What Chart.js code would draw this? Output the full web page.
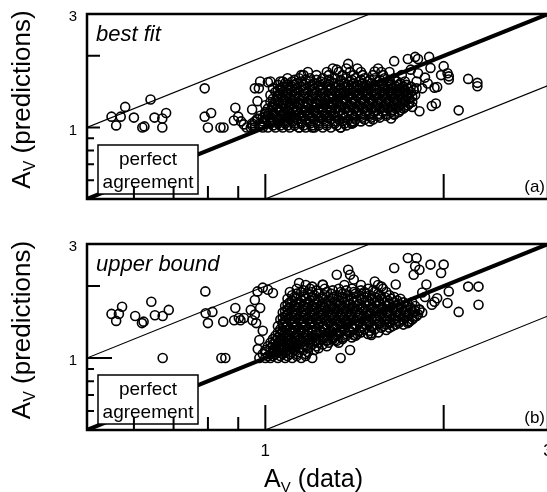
<!DOCTYPE html>
<html>
<head>
<meta charset="utf-8">
<script src="https://cdn.jsdelivr.net/npm/chart.js@4.4.1/dist/chart.umd.min.js"></script>
<style>
  html, body { margin: 0; padding: 0; background: #fff; width: 547px; height: 492px; overflow: hidden; }
  canvas { position: absolute; left: 0; }
  #c1 { top: 0; }
  #c2 { top: 230px; }
</style>
</head>
<body>
<canvas id="c1" width="560" height="230"></canvas>
<canvas id="c2" width="560" height="262"></canvas>
<script>
// axis range (both axes are logarithmic)
const axisMin = 0.5;
const axisMax = 3;

// tick marks and labels
const xMajorTicks = [1, 2];
const xMinorTicks = [0.6, 0.7, 0.8, 0.9];
const yMajorTicks = [1, 2];
const yMinorTicks = [0.6, 0.7, 0.8, 0.9];
const xLabelValues = [1, 3];
const yLabelValues = [1, 3];

// prediction / data ratios for the reference lines (perfect agreement, factor 2)
const refRatios = [1, 2, 0.5];

// (a) best fit: isolated points [data, prediction]
const bestFitSparse = [
  [0.55,1.11],[0.56,1.02],[0.57,1.11],[0.58,1.22],[0.60,1.10],[0.62,1.00],[0.625,1.01],[0.64,1.31],
  [0.65,1.10],[0.67,1.00],[0.67,1.09],[0.68,1.15],[0.79,1.46],[0.79,1.11],[0.80,1.00],[0.81,1.15],
  [0.84,1.00],[0.85,1.00],[0.89,1.21],[0.885,1.07],[0.90,1.11],[0.91,1.06],[0.92,1.03],[0.945,1.00],
  [0.95,1.19],[0.96,1.46],[0.975,1.46],[0.97,1.29],[0.98,1.56],[0.97,1.09],[1.01,1.55],
  [1.65,1.90],[1.74,1.94],[1.79,1.98],[1.81,1.94],[1.89,1.98],[1.90,1.78],[2.00,1.81],[2.04,1.64],
  [2.04,1.59],[1.98,1.66],[2.03,1.69],[2.20,1.60],[2.28,1.54],[2.28,1.49],[2.12,1.18],[1.91,1.23],
  [1.94,1.26],[1.82,1.17],[1.77,1.22],[1.65,1.13],[1.63,1.09],[1.80,1.56],[1.84,1.46],[1.88,1.53],
  [1.93,1.47],[1.95,1.48],[1.76,1.75],[1.81,1.69],[1.86,1.62],[1.32,1.75],[1.38,1.85],[1.53,1.72],
  [1.16,1.66],[1.06,1.56],[1.41,1.05],[1.40,1.04],[1.34,1.00],[1.20,1.00],[1.14,1.00]
];

// (a) best fit: dense cloud, rows of [prediction, [data values]]
const bestFitRows = [
  [1.00, [0.93,0.96,0.99,1.01,1.04,1.07,1.10,1.14,1.17,1.21,1.25,1.29,1.34]],
  [1.02, [0.95,0.98,1.03,1.06,1.09,1.12,1.16,1.20,1.23,1.27,1.32,1.37]],
  [1.04, [0.95,0.98,1.02,1.05,1.08,1.12,1.15,1.19,1.23,1.27,1.31,1.36,1.40]],
  [1.06, [0.96,0.99,1.02,1.05,1.08,1.11,1.15,1.19,1.23,1.27,1.31,1.35,1.40,1.45,1.50]],
  [1.08, [0.97,1.00,1.03,1.06,1.10,1.13,1.17,1.21,1.25,1.29,1.33,1.38,1.42,1.47,1.52]],
  [1.10, [0.99,1.02,1.05,1.09,1.12,1.16,1.20,1.24,1.28,1.32,1.36,1.41,1.46,1.51,1.56]],
  [1.12, [0.98,1.01,1.04,1.08,1.11,1.15,1.19,1.23,1.27,1.31,1.35,1.40,1.45,1.50,1.55,1.60]],
  [1.14, [1.00,1.03,1.07,1.10,1.14,1.18,1.22,1.26,1.30,1.35,1.40,1.45,1.50,1.55,1.60,1.65]],
  [1.16, [1.00,1.03,1.06,1.09,1.13,1.17,1.21,1.25,1.29,1.33,1.38,1.43,1.48,1.53,1.58,1.63,1.68]],
  [1.18, [1.02,1.06,1.09,1.13,1.17,1.21,1.25,1.29,1.34,1.39,1.44,1.49,1.54,1.59,1.64,1.69]],
  [1.20, [1.01,1.05,1.08,1.11,1.15,1.19,1.23,1.27,1.31,1.36,1.41,1.46,1.51,1.56,1.61,1.66,1.71]],
  [1.22, [1.03,1.06,1.10,1.13,1.17,1.21,1.25,1.29,1.33,1.38,1.43,1.48,1.53,1.58,1.63,1.68,1.72]],
  [1.24, [1.00,1.03,1.07,1.10,1.14,1.18,1.22,1.26,1.30,1.34,1.39,1.44,1.49,1.54,1.59,1.64,1.69,1.74]],
  [1.26, [1.04,1.07,1.11,1.14,1.18,1.22,1.26,1.30,1.35,1.40,1.45,1.50,1.55,1.60,1.65,1.70,1.75]],
  [1.28, [1.02,1.05,1.09,1.12,1.16,1.20,1.24,1.28,1.32,1.37,1.42,1.47,1.52,1.57,1.62,1.67,1.72,1.77]],
  [1.30, [1.04,1.08,1.11,1.15,1.19,1.23,1.27,1.32,1.37,1.42,1.47,1.52,1.57,1.62,1.67,1.72]],
  [1.32, [1.03,1.07,1.10,1.14,1.18,1.22,1.26,1.30,1.35,1.40,1.45,1.50,1.55,1.60,1.65,1.70,1.75]],
  [1.345, [1.05,1.08,1.12,1.16,1.20,1.24,1.28,1.33,1.38,1.43,1.48,1.53,1.58,1.63,1.68,1.73,1.77]],
  [1.37, [1.02,1.05,1.09,1.12,1.16,1.20,1.24,1.28,1.33,1.38,1.43,1.48,1.53,1.58,1.63,1.68,1.73,1.79]],
  [1.39, [1.06,1.09,1.13,1.17,1.21,1.25,1.29,1.34,1.39,1.44,1.49,1.54,1.59,1.64,1.69,1.74]],
  [1.41, [1.04,1.07,1.11,1.14,1.18,1.22,1.26,1.31,1.36,1.41,1.46,1.51,1.56,1.61,1.66,1.71,1.76]],
  [1.435, [1.05,1.09,1.12,1.16,1.20,1.24,1.28,1.33,1.38,1.43,1.48,1.53,1.58,1.63,1.68,1.72,1.78]],
  [1.46, [1.03,1.06,1.10,1.13,1.17,1.21,1.25,1.29,1.34,1.39,1.44,1.49,1.54,1.59,1.64,1.69,1.74,1.80]],
  [1.485, [1.07,1.11,1.15,1.19,1.23,1.27,1.31,1.36,1.41,1.46,1.51,1.56,1.61,1.66,1.71,1.76]],
  [1.51, [1.05,1.09,1.12,1.16,1.20,1.24,1.28,1.33,1.38,1.43,1.48,1.53,1.58,1.63,1.68,1.73]],
  [1.535, [1.08,1.13,1.17,1.21,1.26,1.31,1.36,1.41,1.46,1.51,1.57,1.63,1.69]],
  [1.56, [1.02,1.07,1.11,1.15,1.19,1.24,1.29,1.34,1.39,1.44,1.49,1.55,1.61,1.67,1.72]],
  [1.585, [1.12,1.17,1.22,1.28,1.34,1.40,1.45,1.50,1.56,1.62]],
  [1.61, [1.09,1.14,1.19,1.25,1.31,1.37,1.42,1.47,1.53,1.59,1.65]],
  [1.66, [1.15,1.22,1.28,1.35,1.41,1.46,1.52,1.58,1.70]],
  [1.71, [1.18,1.27,1.33,1.39,1.45,1.57,1.62]],
  [1.77, [1.30,1.37,1.43,1.55]]
];

// (b) upper bound: isolated points [data, prediction]
const upperBoundSparse = [
  [0.55,1.53],[0.56,1.43],[0.566,1.53],[0.573,1.64],[0.603,1.50],[0.619,1.40],[0.623,1.42],[0.642,1.72],
  [0.651,1.51],[0.671,1.50],[0.671,1.00],[0.687,1.59],[0.792,1.90],[0.793,1.54],[0.80,1.40],[0.814,1.56],
  [0.849,1.42],[0.843,1.00],[0.856,1.00],[0.89,1.62],[0.886,1.44],[0.902,1.47],[0.908,1.44],[0.92,1.47],
  [0.945,1.59],[0.951,1.44],[0.96,1.75],[0.97,1.90],[0.99,1.97],[1.01,1.93],[1.03,1.87],[0.977,1.19],
  [0.971,1.09],[0.977,1.00],[0.96,1.52],[0.965,1.40],[0.98,1.62],[0.99,1.30],
  [1.32,2.23],[1.38,2.34],[1.39,2.23],[1.41,2.13],[1.14,2.06],[1.20,1.99],[1.25,2.03],[1.53,2.09],
  [1.57,1.99],[1.66,2.03],[1.34,1.00],[1.39,1.08],[1.51,1.25],[1.51,1.27],[1.60,1.31],[1.41,1.25],
  [1.31,1.19],[1.27,1.19],[1.75,1.42],[1.82,1.59],[1.91,1.67],[1.93,1.72],[2.03,1.70],[2.12,1.56],
  [2.29,1.67],[2.29,1.99],[2.20,1.99],[2.04,1.90],[1.98,2.27],[2.00,2.46],[1.90,2.46],[1.82,2.34],
  [1.80,2.62],[1.74,2.62],[1.65,2.38],[1.87,2.03],[1.79,2.42],[1.78,2.23],[1.86,1.80],[1.95,1.78],
  [1.84,1.88]
];

// (b) upper bound: dense cloud, rows of [prediction, [data values]]
const upperBoundRows = [
  [1.00, [1.00,1.02,1.05,1.08,1.11,1.15,1.20]],
  [1.02, [1.01,1.03,1.06,1.09,1.13,1.17]],
  [1.04, [0.99,1.02,1.04,1.07,1.10,1.13,1.17]],
  [1.06, [1.00,1.03,1.05,1.08,1.11,1.14,1.18]],
  [1.08, [1.00,1.03,1.06,1.09,1.12,1.16,1.21]],
  [1.10, [1.02,1.05,1.08,1.11,1.14,1.18,1.23]],
  [1.12, [1.01,1.04,1.07,1.10,1.13,1.17,1.22,1.27]],
  [1.14, [1.03,1.06,1.09,1.12,1.16,1.20,1.25]],
  [1.16, [1.02,1.05,1.08,1.11,1.15,1.19,1.23,1.28,1.33]],
  [1.18, [1.04,1.07,1.10,1.14,1.18,1.22,1.27,1.32]],
  [1.20, [1.03,1.06,1.09,1.12,1.16,1.20,1.25,1.30,1.35]],
  [1.22, [1.05,1.08,1.12,1.16,1.20,1.25,1.30,1.35,1.40]],
  [1.24, [1.04,1.07,1.10,1.14,1.18,1.22,1.27,1.32,1.37,1.42]],
  [1.26, [1.06,1.09,1.13,1.17,1.22,1.27,1.32,1.37,1.43,1.49]],
  [1.28, [1.05,1.08,1.12,1.16,1.20,1.24,1.29,1.34,1.39,1.45,1.55]],
  [1.30, [1.07,1.11,1.15,1.20,1.24,1.29,1.34,1.39,1.44,1.50]],
  [1.32, [1.06,1.10,1.14,1.18,1.22,1.26,1.31,1.36,1.41,1.47,1.53]],
  [1.34, [1.08,1.12,1.16,1.20,1.25,1.30,1.35,1.40,1.45,1.51,1.57,1.62]],
  [1.36, [1.05,1.09,1.13,1.17,1.21,1.25,1.30,1.35,1.40,1.46,1.52,1.58,1.64]],
  [1.38, [1.07,1.11,1.15,1.19,1.23,1.27,1.32,1.37,1.42,1.48,1.54,1.60,1.66,1.71]],
  [1.40, [1.07,1.11,1.15,1.19,1.23,1.28,1.33,1.38,1.44,1.50,1.56,1.62,1.68,1.74]],
  [1.425, [1.08,1.12,1.16,1.20,1.24,1.29,1.34,1.39,1.44,1.50,1.56,1.62,1.68,1.74]],
  [1.45, [1.06,1.10,1.14,1.18,1.22,1.26,1.31,1.36,1.41,1.47,1.53,1.59,1.65,1.71,1.77]],
  [1.475, [1.07,1.11,1.15,1.19,1.23,1.28,1.33,1.38,1.43,1.48,1.54,1.60,1.66,1.72,1.78]],
  [1.50, [1.08,1.12,1.16,1.20,1.24,1.29,1.34,1.39,1.44,1.50,1.56,1.62,1.68,1.74,1.80]],
  [1.525, [1.09,1.13,1.17,1.21,1.25,1.30,1.35,1.40,1.45,1.51,1.57,1.63,1.69,1.75,1.81]],
  [1.55, [1.07,1.11,1.15,1.19,1.23,1.27,1.32,1.37,1.42,1.48,1.54,1.60,1.66,1.72,1.78,1.84]],
  [1.575, [1.08,1.12,1.16,1.20,1.24,1.28,1.33,1.38,1.43,1.49,1.55,1.61,1.67,1.73,1.79]],
  [1.60, [1.09,1.13,1.17,1.21,1.25,1.30,1.35,1.40,1.46,1.52,1.58,1.64,1.70,1.76,1.82]],
  [1.625, [1.10,1.14,1.18,1.22,1.26,1.31,1.36,1.41,1.46,1.52,1.58,1.64,1.70,1.76]],
  [1.65, [1.08,1.12,1.16,1.20,1.24,1.28,1.33,1.38,1.43,1.49,1.55,1.61,1.67,1.73,1.79]],
  [1.68, [1.09,1.13,1.17,1.21,1.25,1.29,1.34,1.39,1.44,1.50,1.56,1.62,1.68,1.74]],
  [1.71, [1.10,1.14,1.18,1.22,1.26,1.31,1.36,1.41,1.47,1.53,1.59,1.65,1.71,1.77]],
  [1.74, [1.11,1.15,1.19,1.23,1.28,1.33,1.38,1.43,1.49,1.55,1.61,1.67]],
  [1.77, [1.09,1.13,1.17,1.21,1.25,1.30,1.35,1.40,1.45,1.51,1.57,1.63,1.69]],
  [1.80, [1.12,1.16,1.20,1.25,1.30,1.35,1.41,1.47,1.53,1.59,1.65]],
  [1.83, [1.11,1.16,1.21,1.26,1.32,1.38,1.44,1.50,1.56,1.62]],
  [1.86, [1.13,1.18,1.23,1.29,1.35,1.42,1.48,1.55]],
  [1.89, [1.10,1.15,1.20,1.27,1.34,1.41,1.47,1.53,1.60]],
  [1.92, [1.16,1.22,1.30,1.37,1.45,1.52]],
  [1.95, [1.13,1.19,1.26,1.33,1.40,1.49,1.58]],
  [2.02, [1.17,1.25,1.36,1.45,1.55]]
];

const FONT = "'Liberation Sans', Arial, Helvetica, sans-serif";

function toPoints(sparse, rows) {
  const pts = sparse.map(([x, y]) => ({ x, y }));
  rows.forEach(([y, xs]) => xs.forEach(x => pts.push({ x, y })));
  return pts;
}

function refLine(ratio, width) {
  return {
    type: 'scatter',
    showLine: true,
    data: [{ x: axisMin, y: axisMin * ratio }, { x: axisMax, y: axisMax * ratio }],
    borderColor: '#000',
    borderWidth: width,
    pointRadius: 0,
    order: 2
  };
}

// text with a subscript, drawn around a centre point
function drawSubText(ctx, parts, cx, baseline) {
  let total = 0;
  parts.forEach(p => { ctx.font = p.font; total += ctx.measureText(p.text).width; });
  let x = cx - total / 2;
  parts.forEach(p => {
    ctx.font = p.font;
    ctx.fillText(p.text, x, baseline + (p.dy || 0));
    x += ctx.measureText(p.text).width;
  });
}

function axisTitle(word, size) {
  return [
    { text: 'A', font: `${size}px ${FONT}` },
    { text: 'V', font: `${Math.round(size * 0.6)}px ${FONT}`, dy: 5 },
    { text: ` (${word})`, font: `${size}px ${FONT}` }
  ];
}

function decorPlugin(panel) {
  return {
    id: 'decor',
    afterDatasetsDraw(chart) {
      const { ctx, chartArea: a, scales: { x, y } } = chart;
      ctx.save();
      ctx.fillStyle = '#000';
      ctx.strokeStyle = '#000';

      // "perfect agreement" box
      const bx = a.left + 11, by = a.top + 131, bw = 100, bh = 49;
      ctx.fillStyle = '#fff';
      ctx.fillRect(bx, by, bw, bh);
      ctx.lineWidth = 1.5;
      ctx.strokeRect(bx, by, bw, bh);
      ctx.fillStyle = '#000';
      ctx.font = `19px ${FONT}`;
      ctx.textAlign = 'center';
      ctx.textBaseline = 'alphabetic';
      ctx.fillText('perfect', bx + bw / 2, by + 20);
      ctx.fillText('agreement', bx + bw / 2, by + 43);

      // frame
      ctx.lineWidth = 2.5;
      ctx.strokeRect(a.left, a.top, a.right - a.left, a.bottom - a.top);

      // inward ticks
      ctx.lineWidth = 2;
      ctx.beginPath();
      xMajorTicks.forEach(v => { const px = x.getPixelForValue(v); ctx.moveTo(px, a.bottom); ctx.lineTo(px, a.bottom - 25); });
      xMinorTicks.forEach(v => { const px = x.getPixelForValue(v); ctx.moveTo(px, a.bottom); ctx.lineTo(px, a.bottom - 13); });
      yMajorTicks.forEach(v => {
        const py = y.getPixelForValue(v);
        ctx.moveTo(a.left, py);
        ctx.lineTo(a.left + (v === 1 ? panel.oneTick : 13), py);
      });
      yMinorTicks.forEach(v => { const py = y.getPixelForValue(v); ctx.moveTo(a.left, py); ctx.lineTo(a.left + 7, py); });
      ctx.stroke();

      // y tick labels
      ctx.font = `15px ${FONT}`;
      ctx.textAlign = 'right';
      ctx.textBaseline = 'middle';
      yLabelValues.forEach(v => ctx.fillText(String(v), 77, y.getPixelForValue(v) + 3));

      // panel name and tag
      ctx.font = `italic 22px ${FONT}`;
      ctx.textAlign = 'left';
      ctx.textBaseline = 'alphabetic';
      ctx.fillText(panel.name, a.left + 9, a.top + 27);
      ctx.font = `17px ${FONT}`;
      ctx.textAlign = 'right';
      ctx.fillText(panel.tag, 545, a.bottom - 7);

      // y axis title
      ctx.save();
      ctx.translate(30, (a.top + a.bottom) / 2 - 7);
      ctx.rotate(-Math.PI / 2);
      ctx.textAlign = 'left';
      drawSubText(ctx, axisTitle('predictions', 26), 0, 0);
      ctx.restore();

      // x tick labels and title on the lower panel only
      if (panel.xAxis) {
        ctx.font = `17px ${FONT}`;
        ctx.textAlign = 'center';
        ctx.textBaseline = 'middle';
        xLabelValues.forEach(v => ctx.fillText(String(v), x.getPixelForValue(v), a.bottom + 21));
        ctx.textAlign = 'left';
        ctx.textBaseline = 'alphabetic';
        drawSubText(ctx, axisTitle('data', 25), (a.left + a.right) / 2 - 4, a.bottom + 57);
      }
      ctx.restore();
    }
  };
}

function makePanel(canvas, points, panel, padBottom) {
  return new Chart(canvas, {
    type: 'scatter',
    data: {
      datasets: [
        {
          data: points,
          pointStyle: 'circle',
          pointRadius: 4.5,
          pointBorderWidth: 1.6,
          pointBorderColor: '#000',
          pointBackgroundColor: 'rgba(0,0,0,0)',
          order: 1
        },
        refLine(refRatios[0], 4),
        refLine(refRatios[1], 1.2),
        refLine(refRatios[2], 1.2)
      ]
    },
    options: {
      responsive: false,
      animation: false,
      events: [],
      layout: { padding: { left: 87, top: 14, right: 12, bottom: padBottom } },
      plugins: { legend: { display: false }, tooltip: { enabled: false } },
      scales: {
        x: { type: 'logarithmic', min: axisMin, max: axisMax, display: false },
        y: { type: 'logarithmic', min: axisMin, max: axisMax, display: false }
      }
    },
    plugins: [decorPlugin(panel)]
  });
}

makePanel(document.getElementById('c1'), toPoints(bestFitSparse, bestFitRows),
  { name: 'best fit', tag: '(a)', xAxis: false, oneTick: 13 }, 31);
makePanel(document.getElementById('c2'), toPoints(upperBoundSparse, upperBoundRows),
  { name: 'upper bound', tag: '(b)', xAxis: true, oneTick: 25 }, 62);
</script>
</body>
</html>
